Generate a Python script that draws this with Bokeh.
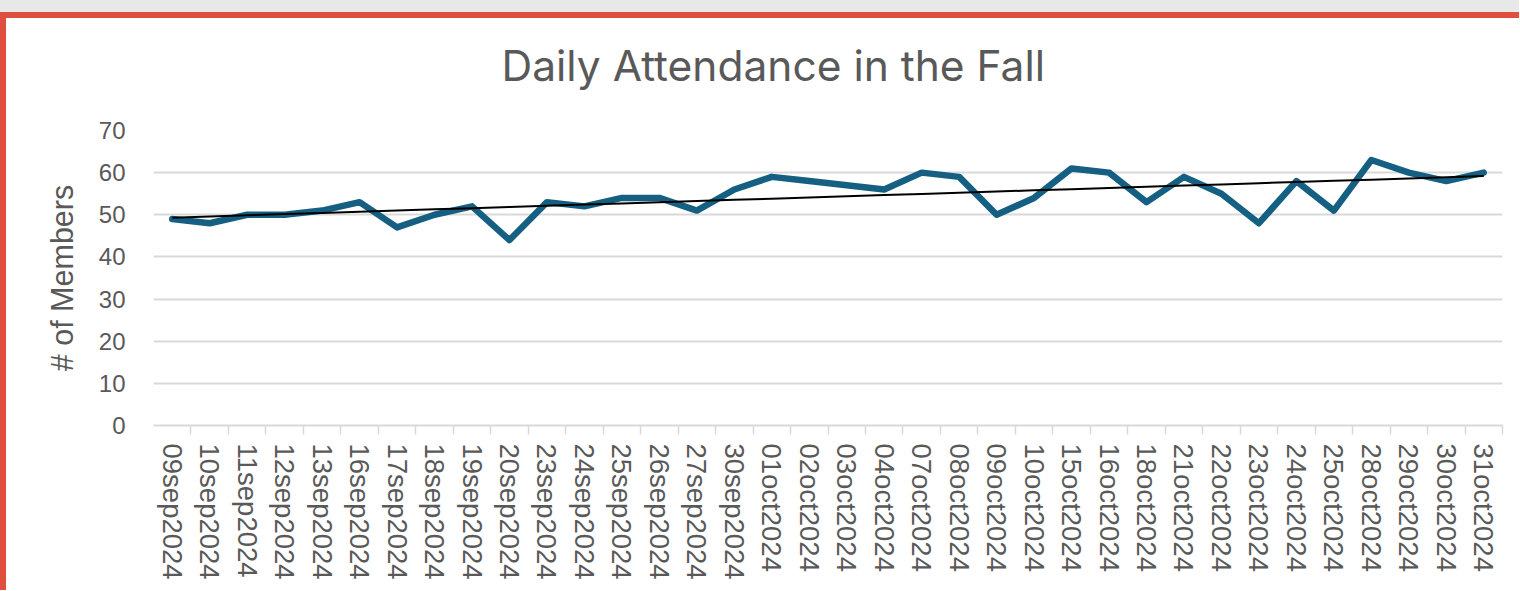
from bokeh.plotting import figure
from bokeh.models import Range1d, FixedTicker
from bokeh.embed import file_html
from bokeh.resources import INLINE
import numpy as np

dates = ["09sep2024", "10sep2024", "11sep2024", "12sep2024", "13sep2024", "16sep2024",
         "17sep2024", "18sep2024", "19sep2024", "20sep2024", "23sep2024", "24sep2024",
         "25sep2024", "26sep2024", "27sep2024", "30sep2024", "01oct2024", "02oct2024",
         "03oct2024", "04oct2024", "07oct2024", "08oct2024", "09oct2024", "10oct2024",
         "15oct2024", "16oct2024", "18oct2024", "21oct2024", "22oct2024", "23oct2024",
         "24oct2024", "25oct2024", "28oct2024", "29oct2024", "30oct2024", "31oct2024"]
members = [49, 48, 50, 50, 51, 53, 47, 50, 52, 44, 53, 52, 54, 54, 51, 56, 59, 58,
           57, 56, 60, 59, 50, 54, 61, 60, 53, 59, 55, 48, 58, 51, 63, 60, 58, 60]
y_ticks = [0, 10, 20, 30, 40, 50, 60, 70]

TEXT = "#595959"
GRID = "#d9d9d9"

xs = list(range(len(dates)))
slope, intercept = np.polyfit(xs, members, 1)
trend = [slope * x + intercept for x in xs]

p = figure(width=1519, height=590, output_backend="svg", toolbar_location=None,
           x_range=Range1d(-0.5, len(dates) - 0.5), y_range=Range1d(0, 70),
           min_border_left=153, min_border_right=17, min_border_top=130,
           min_border_bottom=165, outline_line_color=None,
           background_fill_color="white", border_fill_color=None)

# window frame decoration (grey strip, red border) painted behind the transparent canvas
p.styles = {
    "background-color": "white",
    "background-image": ("linear-gradient(#e8e8e8, #e8e8e8), "
                         "linear-gradient(#e04e3f, #e04e3f), "
                         "linear-gradient(#e04e3f, #e04e3f)"),
    "background-size": "100% 12px, 100% 6px, 6px 100%",
    "background-position": "0 0, 0 12px, 0 12px",
    "background-repeat": "no-repeat",
}

# title
p.title.text = "Daily Attendance in the Fall"
p.title.text_font = "Inter"
p.title.text_font_size = "42.5px"
p.title.text_font_style = "normal"
p.title.text_color = TEXT
p.title.align = "left"
p.title.vertical_align = "top"
p.title.offset = 348
p.title.standoff = 76

# y axis
yax = p.yaxis[0]
yax.ticker = FixedTicker(ticks=y_ticks)
yax.axis_line_color = None
yax.major_tick_line_color = None
yax.minor_tick_line_color = None
yax.major_tick_out = 0
yax.major_tick_in = 0
yax.major_label_standoff = 28
yax.major_label_text_font = "Liberation Sans"
yax.major_label_text_font_size = "24px"
yax.major_label_text_color = TEXT
yax.axis_label = "# of Members"
yax.axis_label_text_font = "Liberation Sans"
yax.axis_label_text_font_size = "30.5px"
yax.axis_label_text_font_style = "normal"
yax.axis_label_text_color = TEXT
yax.axis_label_standoff = 17

# x axis
xax = p.xaxis[0]
xax.ticker = FixedTicker(ticks=xs, minor_ticks=[x + 0.5 for x in xs])
xax.major_label_overrides = {x: d for x, d in zip(xs, dates)}
xax.major_label_orientation = "vertical"
xax.axis_line_color = GRID
xax.axis_line_width = 2
xax.major_tick_line_color = None
xax.major_tick_out = 0
xax.major_tick_in = 0
xax.minor_tick_line_color = GRID
xax.minor_tick_line_width = 1.5
xax.minor_tick_out = 9
xax.minor_tick_in = 0
xax.major_label_standoff = 9
xax.major_label_text_font = "Liberation Sans"
xax.major_label_text_font_size = "27.5px"
xax.major_label_text_color = TEXT

p.xgrid.grid_line_color = None
p.ygrid.ticker = FixedTicker(ticks=y_ticks)
p.ygrid.grid_line_color = GRID
p.ygrid.grid_line_width = 2

p.line(xs, members, line_color="#156082", line_width=6.5, line_join="round", line_cap="round")
p.line(xs, trend, line_color="black", line_width=2)

open("out.html", "w").write(file_html(p, INLINE))
